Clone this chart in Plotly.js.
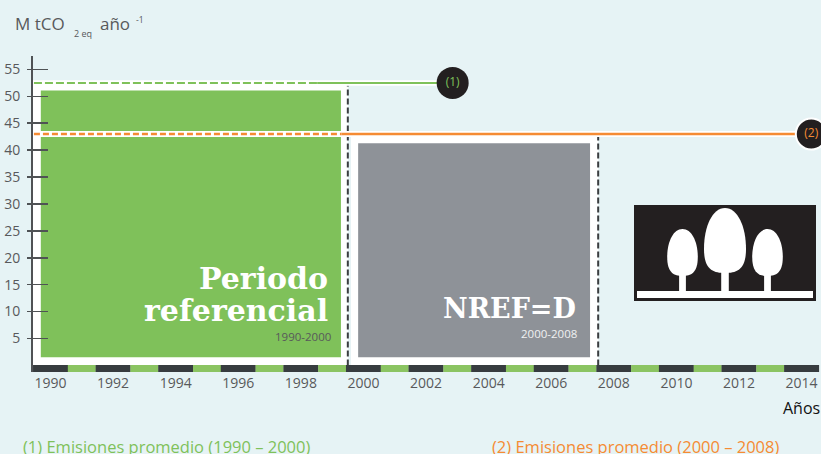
<!DOCTYPE html>
<html><head><meta charset="utf-8">
<script src="https://cdn.plot.ly/plotly-3.0.1.min.js"></script>
<style>html,body{margin:0;padding:0;background:#e6f3f5;overflow:hidden}</style>
</head><body><div id="c" style="width:821px;height:454px"></div>
<script>
const years=[1990,1991,1992,1993,1994,1995,1996,1997,1998,1999,2000,2001,2002,2003,2004,2005,2006,2007,2008,2009,2010,2011,2012,2013,2014];
const tickYears=[1990,1992,1994,1996,1998,2000,2002,2004,2006,2008,2010,2012,2014];
const yTicks=[5,10,15,20,25,30,35,40,45,50,55];
const refStart=1989.69, refEnd=1999.28, refLow=1.5, refHigh=51.1;
const nrefStart=1999.83, nrefEnd=2007.24, nrefLow=1.5, nrefHigh=41.3;
const avg1=52.5, avg2=43;
const period1End=1999.5, period2End=2007.5;

const W=821,H=454,L=33,R=0,T=56,B=82;
const fx=p=>(p-L)/(W-L-R), fy=p=>(H-B-p)/(H-T-B);
const GRAY='#58595b',GREEN='#7fc15a',ORANGE='#f58b33',DARK='#373c3f',INK='#231f20';
const BODY='"Open Sans", sans-serif', SLAB='"DejaVu Serif", serif';
const ann=(x,y,text,size,color,anchor,family,extra)=>Object.assign({xref:'paper',yref:'paper',x:fx(x),y:fy(y),text,showarrow:false,xanchor:anchor||'left',yanchor:'middle',font:{size,color,family:family||BODY},borderpad:0},extra||{});

function bar(x,w,lo,hi,color){return {type:'bar',x:[x],y:[hi-lo],base:[lo],width:[w],marker:{color,line:{width:0}},hoverinfo:'skip',showlegend:false,yaxis:'y'};}
function line(xs,ys,color,width,dash,axis){return {type:'scatter',mode:'lines',x:xs,y:ys,line:{color,width,dash:dash||'solid'},hoverinfo:'skip',showlegend:false,yaxis:axis||'y2',cliponaxis:false};}

const traces=[];
traces.push(bar((1989.44+period1End)/2,period1End-1989.44,0,avg1,'#ffffff'));
traces.push(bar((period1End+0.1+period2End)/2,period2End-period1End-0.1,0,avg2,'#ffffff'));
traces.push(bar((refStart+refEnd)/2,refEnd-refStart,refLow,refHigh,GREEN));
traces.push(bar((nrefStart+nrefEnd)/2,nrefEnd-nrefStart,nrefLow,nrefHigh,'#8e9298'));
years.forEach(y=>{const even=y%2===0;traces.push(bar(y,even?1.118:0.895,-1.3,0.07,even?DARK:'#8bc462'));});
traces.push(line([period1End,period1End],[0,avg1-0.5],'#3a3d40',2,'6px,3px'));
traces.push(line([period2End,period2End],[0,avg2],'#3a3d40',2,'6px,3px'));
traces.push(line([1989.44,2002.85],[avg1,avg1],'#ffffff',5.5));
traces.push(line([1998.52,2002.85],[avg1,avg1],GREEN,2));
traces.push(line([1989.47,1998.52],[avg1,avg1],GREEN,2,'8px,3px'));
traces.push(line([1989.44,2014.3],[avg2,avg2],'#ffffff',6));
traces.push(line([1999.3,2014.3],[avg2,avg2],ORANGE,2.4));
traces.push(line([1989.47,1999.3],[avg2,avg2],ORANGE,2.4,'6px,3px'));
traces.push({type:'scatter',mode:'markers+text',x:[2002.85,2014.31],y:[avg1,avg2],text:['(1)','(2)'],textposition:'middle center',
  textfont:{size:12,color:[GREEN,ORANGE],family:BODY},
  marker:{size:[32,31],opacity:1,color:INK,line:{color:'#ffffff',width:[0,2]}},hoverinfo:'skip',showlegend:false,yaxis:'y2',cliponaxis:false});

const tree=(cx,top,bot,my,w,tw)=>[
 `M${fx(cx)},${fy(top)} C${fx(cx+0.6*w)},${fy(top)} ${fx(cx+w)},${fy(my-0.55*(my-top))} ${fx(cx+w)},${fy(my)} C${fx(cx+w)},${fy(bot-3)} ${fx(cx+0.55*w)},${fy(bot)} ${fx(cx)},${fy(bot)} C${fx(cx-0.55*w)},${fy(bot)} ${fx(cx-w)},${fy(bot-3)} ${fx(cx-w)},${fy(my)} C${fx(cx-w)},${fy(my-0.55*(my-top))} ${fx(cx-0.6*w)},${fy(top)} ${fx(cx)},${fy(top)} Z`,
 `M${fx(cx-tw)},${fy(bot-1)} L${fx(cx+tw)},${fy(bot-1)} L${fx(cx+tw)},${fy(292)} L${fx(cx-tw)},${fy(292)} Z`];
const paths=[].concat(tree(682.5,229,276,257,15.3,3.4),tree(725,208,273,249,21,3.8),tree(767.5,229,276,257,15.3,3.4));
const shapes=[{type:'rect',xref:'paper',yref:'paper',x0:fx(634),x1:fx(816),y0:fy(205),y1:fy(301),fillcolor:INK,line:{width:0},layer:'above'},
 {type:'rect',xref:'paper',yref:'paper',x0:fx(637),x1:fx(813),y0:fy(291),y1:fy(298),fillcolor:'#ffffff',line:{width:0},layer:'above'}]
 .concat(paths.map(p=>({type:'path',xref:'paper',yref:'paper',path:p,fillcolor:'#ffffff',line:{width:0},layer:'above'})));

const annotations=[
 ann(14,23,'M tCO',17,GRAY),
 ann(73,33,'2 eq',9,GRAY),
 ann(99,23,'año',17,GRAY),
 ann(135,19,'-1',8.5,GRAY),
 ann(329,278,'<b>Periodo</b>',30,'#ffffff','right',SLAB),
 ann(329,310,'<b>referencial</b>',30,'#ffffff','right',SLAB),
 ann(332,336,'1990-2000',11.5,GRAY,'right'),
 ann(577,308,'<b>NREF=D</b>',27,'#ffffff','right',SLAB),
 ann(578,333,'2000-2008',11.5,'#f0f1f2','right'),
 ann(821,408,'Años',16,'#111111','right'),
 ann(22,446,'(1) Emisiones promedio (1990 – 2000)',16.5,GREEN),
 ann(491,446,'(2) Emisiones promedio (2000 – 2008)',16.5,ORANGE)
];
const yr=[-1.227,57.5];
const layout={width:W,height:H,margin:{l:L,r:R,t:T,b:B,pad:0},paper_bgcolor:'#e6f3f5',plot_bgcolor:'rgba(0,0,0,0)',barmode:'overlay',showlegend:false,
 xaxis:{range:[1989.44,2014.62],tickmode:'array',tickvals:tickYears,ticktext:tickYears.map(String),ticks:'',showgrid:false,zeroline:false,showline:false,tickfont:{size:14,color:GRAY,family:BODY},ticklabelstandoff:1},
 yaxis:{range:yr,tickmode:'array',tickvals:yTicks,ticktext:yTicks.map(()=>''),ticks:'inside',ticklen:15,tickwidth:1.6,tickcolor:'#4f5255',showgrid:false,zeroline:false,showline:true,linecolor:'#4f5255',linewidth:2},
 yaxis2:{range:yr,overlaying:'y',side:'left',tickmode:'array',tickvals:yTicks,ticktext:yTicks.map(String),ticks:'outside',ticklen:5,tickwidth:1.6,tickcolor:'#4f5255',showgrid:false,zeroline:false,showline:false,tickfont:{size:14,color:GRAY,family:BODY},ticklabelstandoff:4},
 shapes,annotations};
Plotly.newPlot('c',traces,layout,{displayModeBar:false,staticPlot:true});
</script></body></html>
